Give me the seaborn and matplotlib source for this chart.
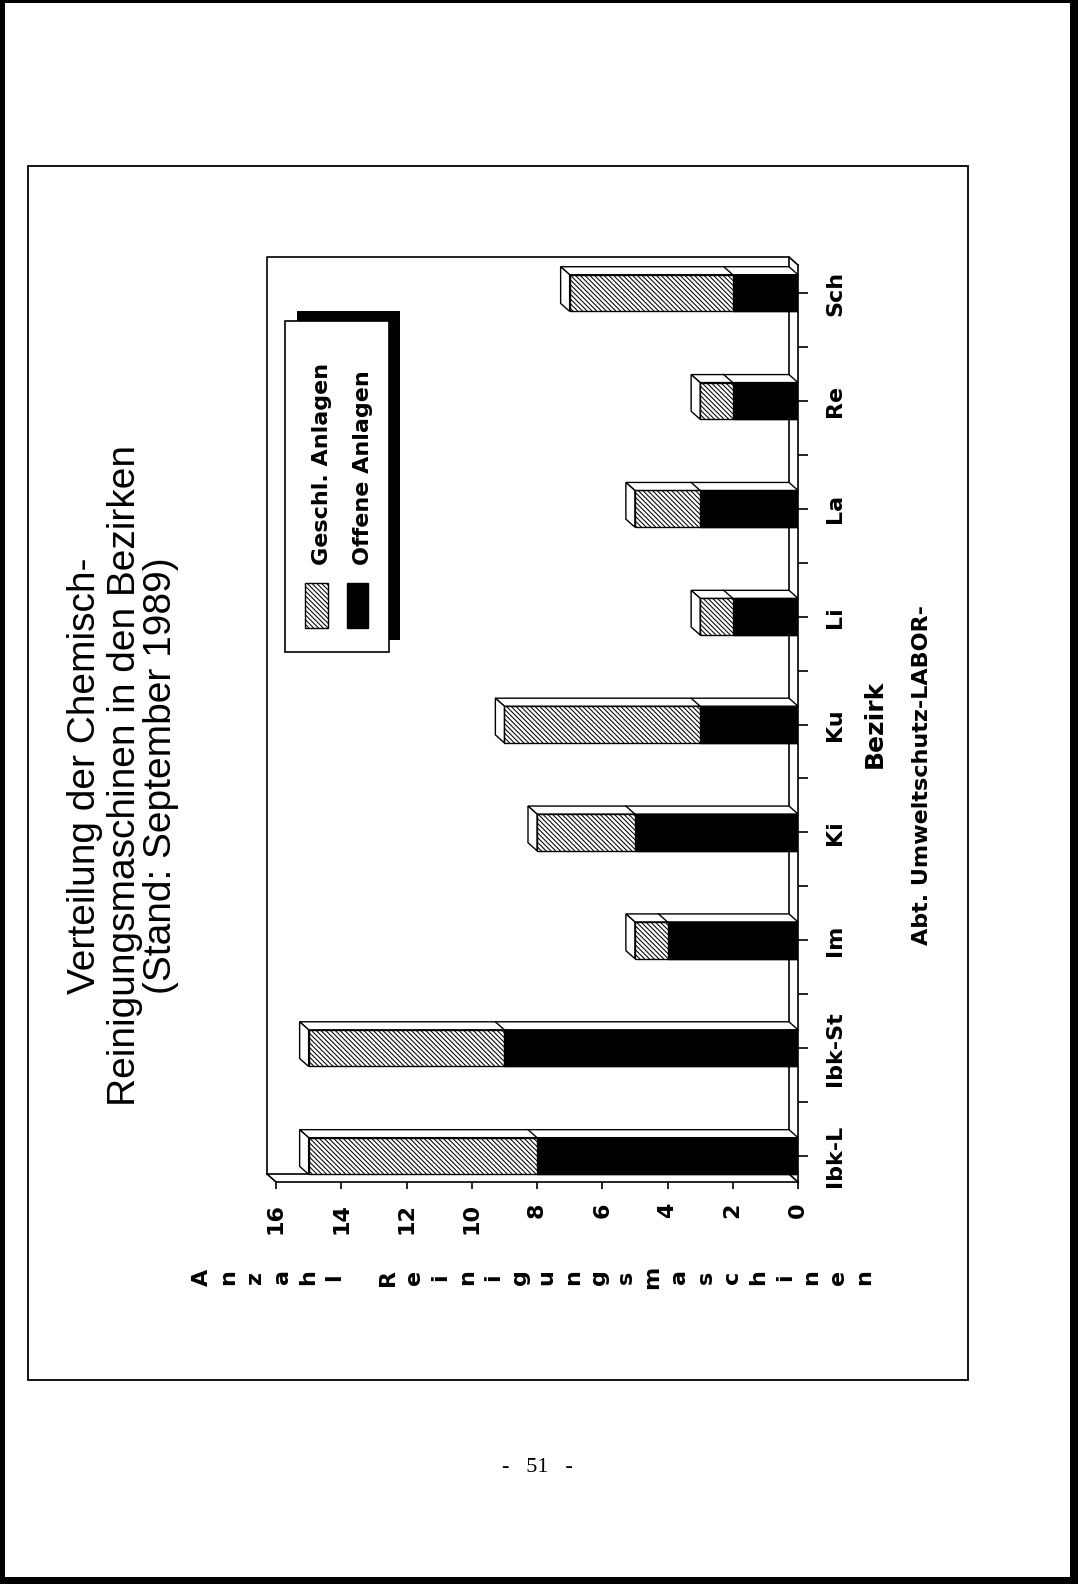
import numpy as np
import pandas as pd
import matplotlib
matplotlib.use("Agg")
import matplotlib.pyplot as plt
from matplotlib.patches import Polygon, Rectangle
import seaborn as sns

# --- DATA ---
bezirke = ["Ibk-L", "Ibk-St", "Im", "Ki", "Ku", "Li", "La", "Re", "Sch"]
geschl = [7, 6, 1, 3, 6, 1, 2, 1, 5]   # Geschl. Anlagen (hatched part)
offene = [8, 9, 4, 5, 3, 2, 3, 2, 2]   # Offene Anlagen (black part)
value_ticks = [0, 2, 4, 6, 8, 10, 12, 14, 16]
title_lines = ["Verteilung der Chemisch-",
               "Reinigungsmaschinen in den Bezirken",
               "(Stand: September 1989)"]
legend_labels = ["Geschl. Anlagen", "Offene Anlagen"]
y_label = "Anzahl Reinigungsmaschinen"
x_label = "Bezirk"
footer = "Abt. Umweltschutz-LABOR-"
page_no = "-   51   -"

W, H = 1078, 1584
BOLD = dict(family="DejaVu Sans", fontweight="bold")
HATCH = "\\" * 7
plt.rcParams["hatch.linewidth"] = 0.75


def fx(px):
    return px / W


def fy(py):
    return 1 - py / H


def fig_rect(x0, y0, x1, y1, **kw):
    # rectangle given in page pixels (y measured from the top)
    return Rectangle((fx(x0), fy(y1)), fx(x1) - fx(x0), fy(y0) - fy(y1),
                     transform=fig.transFigure, **kw)


fig = plt.figure(figsize=(W / 100, H / 100), dpi=100)
fig.patch.set_facecolor("white")

# scan edges + frame around the chart
for x0, y0, x1, y1 in [(0, 0, 5, H), (0, 0, W, 3), (1070, 0, W, H), (0, 1577, W, H)]:
    fig.add_artist(fig_rect(x0, y0, x1, y1, color="black", lw=0))
fig.add_artist(fig_rect(28, 166, 968, 1380, fill=False, ec="black", lw=1.3))

# --- the chart itself (page is turned, so bars run right -> left) ---
df = pd.DataFrame({"Bezirk": bezirke, "Geschl": geschl, "Offene": offene})
df["Gesamt"] = df["Geschl"] + df["Offene"]
order = bezirke[::-1]   # seaborn puts the first category on top

ax = fig.add_axes([fx(276), fy(1182), fx(798) - fx(276), (1182 - 265) / H])
ax.patch.set_alpha(0)
bw = 0.34
sns.barplot(data=df, x="Gesamt", y="Bezirk", order=order, color="white",
            edgecolor="black", hatch=HATCH, linewidth=1.0, width=bw,
            saturation=1, errorbar=None, ax=ax, zorder=3)
sns.barplot(data=df, x="Offene", y="Bezirk", order=order, color="black",
            edgecolor="black", linewidth=1.0, width=bw,
            saturation=1, errorbar=None, ax=ax, zorder=3)

y_bot, y_top = 8.241, -0.26
ax.set_xlim(16, 0)
ax.set_ylim(y_bot, y_top)

# depth of the pseudo 3D walls, in data units
dv = 9 / ((798 - 276) / 16)
dj = -8 / ((1182 - 265) / (y_bot - y_top))

wall = dict(color="black", lw=1.2, clip_on=False, zorder=1)
ax.plot([16 + dv, 16 + dv, dv, dv], [y_bot + dj, y_top + dj, y_top + dj, y_bot + dj], **wall)
ax.plot([dv, 16 + dv], [y_bot + dj, y_bot + dj], **wall)
ax.plot([16, 16 + dv], [y_bot, y_bot + dj], **wall)
ax.plot([0, dv], [y_bot, y_bot + dj], **wall)
ax.plot([0, dv], [y_top, y_top + dj], **wall)

# top strip and end face of every bar
lookup = df.set_index("Bezirk")
for j, b in enumerate(order):
    t, o = lookup.loc[b, "Gesamt"], lookup.loc[b, "Offene"]
    top, bot = j - bw / 2, j + bw / 2
    ax.add_patch(Polygon([(0, top), (t, top), (t + dv, top + dj), (dv, top + dj)],
                         closed=True, fc="white", ec="black", lw=1.0, zorder=4, clip_on=False))
    ax.add_patch(Polygon([(t, top), (t, bot), (t + dv, bot + dj), (t + dv, top + dj)],
                         closed=True, fc="white", ec="black", lw=1.0, zorder=4, clip_on=False))
    ax.plot([o, o + dv], [top, top + dj], color="black", lw=1.0, zorder=5, clip_on=False)

for side in ["top", "left"]:
    ax.spines[side].set_visible(False)
for side in ["bottom", "right"]:
    ax.spines[side].set_linewidth(1.2)

ax.set_xticks(value_ticks)
ax.set_xticklabels([str(v) for v in value_ticks], rotation=90, fontsize=16, **BOLD)
ax.tick_params(axis="x", direction="out", length=5, width=1.2, pad=10)

ax.yaxis.tick_right()
ax.set_yticks(range(len(order)))
ax.set_yticklabels(order, rotation=90, va="center", fontsize=16, **BOLD)
ax.set_yticks(np.arange(0.5, len(order) - 1, 1), minor=True)
ax.tick_params(axis="y", which="both", direction="out", length=7.5, width=1.2, pad=12,
               left=False, right=True, labelleft=False, labelright=True)
ax.set_xlabel("")
ax.set_ylabel("")

# --- texts around the chart ---
for x, line in zip([85, 125, 161], title_lines):
    fig.text(fx(x), fy(776), line, rotation=90, ha="center", va="center",
             fontsize=28, family="Liberation Sans")

fig.text(fx(875), fy(724), x_label, rotation=90, ha="center", va="center", fontsize=18, **BOLD)
fig.text(fx(922), fy(775), footer, rotation=90, ha="center", va="center", fontsize=16, **BOLD)

# stacked letters of the value-axis title
for k, ch in enumerate(y_label):
    if ch != " ":
        fig.text(fx(202 + 26.5 * k), fy(1277), ch, rotation=90, ha="center", va="center",
                 fontsize=16, **BOLD)

# legend with drop shadow
fig.add_artist(fig_rect(297, 311, 400, 640, fc="black", lw=0))
fig.add_artist(fig_rect(285, 321, 389, 652, fc="white", ec="black", lw=1.2))
fig.add_artist(fig_rect(305, 583, 328, 628, fc="white", ec="black", hatch=HATCH, lw=1.0))
fig.add_artist(fig_rect(347, 583, 368, 628, fc="black", ec="black", lw=1.0))
fig.text(fx(322), fy(565), legend_labels[0], rotation=90, ha="center", va="bottom", fontsize=16, **BOLD)
fig.text(fx(363), fy(565), legend_labels[1], rotation=90, ha="center", va="bottom", fontsize=16, **BOLD)

fig.text(fx(537), fy(1467), page_no, ha="center", va="center", fontsize=16, family="Liberation Serif")

plt.savefig("out.png", dpi=100)
